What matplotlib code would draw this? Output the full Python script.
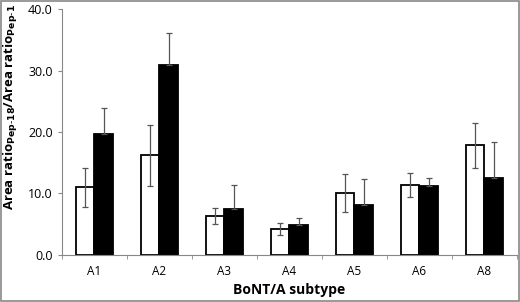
import numpy as np
import matplotlib.pyplot as plt

# Datos
subtipos = ["A1", "A2", "A3", "A4", "A5", "A6", "A8"]
blancas = [11.0, 16.2, 6.3, 4.2, 10.0, 11.4, 17.8]
err_blancas = [3.2, 5.0, 1.3, 1.0, 3.1, 2.0, 3.7]
negras = [19.6, 30.9, 7.5, 4.8, 8.1, 11.2, 12.5]
err_negras = [4.3, 5.2, 3.8, 1.2, 4.2, 1.3, 5.8]

plt.rcParams['font.family'] = ['Open Sans', 'DejaVu Sans']

fig = plt.figure(figsize=(5.2, 3.02), dpi=100)
ax = fig.add_axes([0.119, 0.156, 0.875, 0.814])

x = np.arange(len(subtipos))
w = 0.29
gris = "#555555"

ax.bar(x - w / 2, blancas, w, color="white", edgecolor="black", linewidth=1.3, zorder=2)
ax.bar(x + w / 2, negras, w, color="black", edgecolor="black", linewidth=1.3, zorder=2)
ax.errorbar(x - w / 2, blancas, yerr=err_blancas, fmt="none", ecolor=gris,
            elinewidth=0.9, capsize=2.5, capthick=0.9, zorder=3)
ax.errorbar(x + w / 2, negras, yerr=[np.zeros(len(negras)), err_negras], fmt="none",
            ecolor=gris, elinewidth=0.9, capsize=2.5, capthick=0.9, zorder=3)

ax.set_xlim(-0.5, len(subtipos) - 0.5)
ax.set_ylim(0, 40)
ax.set_yticks([0, 10, 20, 30, 40])
ax.set_yticklabels(["0.0", "10.0", "20.0", "30.0", "40.0"], fontsize=9)
ax.set_xticks(x)
ax.set_xticklabels(subtipos, fontsize=8.5)
ax.set_xticks(np.arange(-0.5, len(subtipos)), minor=True)
ax.tick_params(axis="x", which="major", length=0, pad=7)
ax.tick_params(axis="x", which="minor", length=3, color="#888888")
ax.tick_params(axis="y", length=3, color="#888888")

for lado in ["top", "right"]:
    ax.spines[lado].set_visible(False)
for lado in ["left", "bottom"]:
    ax.spines[lado].set_color("#888888")

ax.set_xlabel("BoNT/A subtype", fontsize=10, fontweight="bold", labelpad=4)
ax.set_ylabel("Area ratio$_{\\mathbf{Pep\\text{-}18}}$/Area ratio$_{\\mathbf{Pep\\text{-}1}}$",
              fontsize=9.5, fontweight="bold")
ax.yaxis.set_label_coords(-0.092, 0.60)

# Borde del área del gráfico
fig.patches.append(plt.Rectangle((0.002, 0.003), 0.996, 0.994, transform=fig.transFigure,
                                 fill=False, edgecolor="#888888", linewidth=1.2))

fig.savefig("out.png", dpi=100)
